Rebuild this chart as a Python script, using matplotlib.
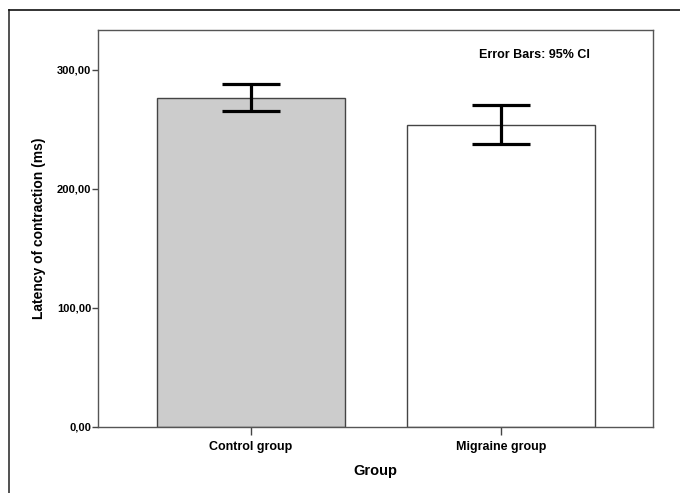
import matplotlib
matplotlib.use("Agg")
import matplotlib.pyplot as plt
from matplotlib.lines import Line2D

plt.rcParams['font.family'] = ['Liberation Sans Narrow', 'Liberation Sans', 'DejaVu Sans']

categories = ["Control group", "Migraine group"]
means = [276.5, 254.0]
ci_low = [265.3, 237.6]
ci_high = [288.0, 270.3]
bar_colors = ["#cccccc", "#ffffff"]
yticks = [0, 100, 200, 300]
yticklabels = ["0,00", "100,00", "200,00", "300,00"]

W, H = 680, 493
fig = plt.figure(figsize=(W / 100, H / 100), dpi=100)
ax = fig.add_axes([98 / W, 1 - 427 / H, (653 - 98) / W, (427 - 30) / H])

x = list(range(len(categories)))
ax.bar(x, means, width=0.752, color=bar_colors, edgecolor="#444444", linewidth=1.0, zorder=2)
yerr = [[m - l for m, l in zip(means, ci_low)], [h - m for m, h in zip(means, ci_high)]]
ax.errorbar(x, means, yerr=yerr, fmt="none", ecolor="black", elinewidth=2.3,
            capsize=20.7, capthick=2.3, zorder=3)

ax.set_xlim(-0.612, 1.608)
ax.set_ylim(0, 333.6)
ax.set_yticks(yticks)
ax.set_yticklabels(yticklabels, fontsize=8, fontweight="bold")
ax.set_xticks(x)
ax.set_xticklabels(categories, fontsize=9, fontweight="bold")
ax.tick_params(axis="y", length=4, width=1, color="#444444", pad=1)
ax.tick_params(axis="x", length=6, width=1, color="#444444", pad=4)
for s in ax.spines.values():
    s.set_color("#555555")
    s.set_linewidth(1.0)

ax.set_ylabel("Latency of contraction (ms)", fontsize=10, fontweight="bold", labelpad=8)
ax.set_xlabel("Group", fontsize=10.5, fontweight="bold", labelpad=8)

ax.text(590 / W, 1 - 55 / H, "Error Bars: 95% CI", transform=fig.transFigure,
        ha="right", va="center", fontsize=9, fontweight="bold")

# outer frame (top and left)
fig.add_artist(Line2D([9 / W, 9 / W], [0, 1 - 10 / H], transform=fig.transFigure,
                      color="#333333", linewidth=1.2))
fig.add_artist(Line2D([9 / W, 1], [1 - 10 / H, 1 - 10 / H], transform=fig.transFigure,
                      color="#111111", linewidth=1.2))

fig.savefig("out.png", dpi=100)
